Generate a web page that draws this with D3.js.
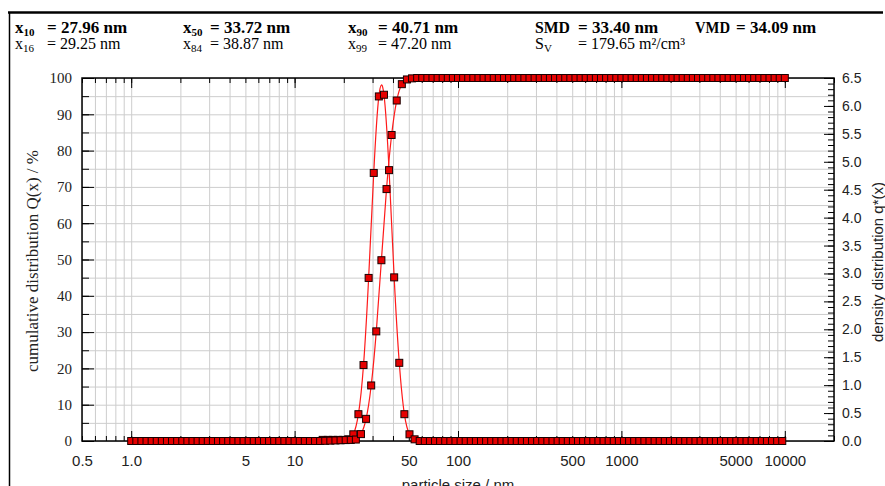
<!DOCTYPE html>
<html><head><meta charset="utf-8">
<script src="https://cdn.jsdelivr.net/npm/d3@7"></script>
<style>
html,body{margin:0;padding:0;background:#fff;}
svg{display:block;}
</style></head><body>
<svg id="chart" width="885" height="486"></svg>
<script>
// Upper class bounds of the size channels, nm (32 channels per decade)
const sizes = [
  1, 1.075, 1.155, 1.241, 1.334, 1.433, 1.540, 1.655, 1.778, 1.911, 2.054, 2.207, 2.371, 2.548, 2.738, 2.943,
  3.162, 3.398, 3.652, 3.924, 4.217, 4.532, 4.870, 5.233, 5.623, 6.043, 6.494, 6.978, 7.499, 8.058, 8.660, 9.306,
  10, 10.75, 11.55, 12.41, 13.34, 14.33, 15.40, 16.55, 17.78, 19.11, 20.54, 22.07, 23.71, 25.48, 27.38, 29.43,
  31.62, 33.98, 36.52, 39.24, 42.17, 45.32, 48.70, 52.33, 56.23, 60.43, 64.94, 69.78, 74.99, 80.58, 86.60, 93.06,
  100, 107.5, 115.5, 124.1, 133.4, 143.3, 154.0, 165.5, 177.8, 191.1, 205.4, 220.7, 237.1, 254.8, 273.8, 294.3,
  316.2, 339.8, 365.2, 392.4, 421.7, 453.2, 487.0, 523.3, 562.3, 604.3, 649.4, 697.8, 749.9, 805.8, 866.0, 930.6,
  1000, 1075, 1155, 1241, 1334, 1433, 1540, 1655, 1778, 1911, 2054, 2207, 2371, 2548, 2738, 2943,
  3162, 3398, 3652, 3924, 4217, 4532, 4870, 5233, 5623, 6043, 6494, 6978, 7499, 8058, 8660, 9306,
  10000
];

// Cumulative distribution Q(x) in %, one value per class bound
const cumulative = [
  0, 0, 0, 0, 0, 0, 0, 0, 0, 0, 0, 0, 0, 0, 0, 0,
  0, 0, 0, 0, 0, 0, 0, 0, 0, 0, 0, 0, 0, 0, 0, 0,
  0, 0, 0, 0, 0, 0, 0.05, 0.1, 0.15, 0.2, 0.25, 0.3, 0.4, 1.9, 6.1, 15.3,
  30.2, 49.8, 69.4, 84.3, 93.8, 98.3, 99.6, 99.9, 100, 100, 100, 100, 100, 100, 100, 100,
  100, 100, 100, 100, 100, 100, 100, 100, 100, 100, 100, 100, 100, 100, 100, 100,
  100, 100, 100, 100, 100, 100, 100, 100, 100, 100, 100, 100, 100, 100, 100, 100,
  100, 100, 100, 100, 100, 100, 100, 100, 100, 100, 100, 100, 100, 100, 100, 100,
  100, 100, 100, 100, 100, 100, 100, 100, 100, 100, 100, 100, 100, 100, 100, 100,
  100
];

// Density distribution q*(x), one value per class (between neighbouring bounds)
const density = [
  0, 0, 0, 0, 0, 0, 0, 0, 0, 0, 0, 0, 0, 0, 0, 0,
  0, 0, 0, 0, 0, 0, 0, 0, 0, 0, 0, 0, 0, 0, 0, 0,
  0, 0, 0, 0, 0, 0.02, 0.02, 0.02, 0.02, 0.02, 0.03, 0.12, 0.48, 1.36, 2.92, 4.80,
  6.17, 6.20, 4.85, 2.93, 1.40, 0.48, 0.12, 0.03, 0, 0, 0, 0, 0, 0, 0, 0,
  0, 0, 0, 0, 0, 0, 0, 0, 0, 0, 0, 0, 0, 0, 0, 0,
  0, 0, 0, 0, 0, 0, 0, 0, 0, 0, 0, 0, 0, 0, 0, 0,
  0, 0, 0, 0, 0, 0, 0, 0, 0, 0, 0, 0, 0, 0, 0, 0,
  0, 0, 0, 0, 0, 0, 0, 0, 0, 0, 0, 0, 0, 0, 0, 0
];

// Axis ticks and labels
const xLabelValues = [0.5, 1, 5, 10, 50, 100, 500, 1000, 5000, 10000];
const xLabelTexts = ["0.5", "1.0", "5", "10", "50", "100", "500", "1000", "5000", "10000"];
const xDecades = [1, 10, 100, 1000, 10000];
const leftTicks = [0, 10, 20, 30, 40, 50, 60, 70, 80, 90, 100];
const rightTicks = [0, 0.5, 1, 1.5, 2, 2.5, 3, 3.5, 4, 4.5, 5, 5.5, 6, 6.5];

// Characteristic values shown in the header
const statNames = ["x", "x", "x", "SMD", "VMD", "x", "x", "x", "S"];
const statSubs = ["10", "50", "90", "", "", "16", "84", "99", "V"];
const statValues = ["= 27.96 nm", "= 33.72 nm", "= 40.71 nm", "= 33.40 nm", "= 34.09 nm",
                    "= 29.25 nm", "= 38.87 nm", "= 47.20 nm", "= 179.65 m\u00B2/cm\u00B3"];
const statBold = [true, true, true, true, true, false, false, false, false];

const svg = d3.select("#chart");
const plot = {left: 82, right: 834, top: 78, bottom: 441};

const x = d3.scaleLog().domain([0.5, 20000]).range([plot.left, plot.right]);
const yQ = d3.scaleLinear().domain([0, 100]).range([plot.bottom, plot.top]);
const yq = d3.scaleLinear().domain([0, 6.5]).range([plot.bottom, plot.top]);

// all 1..9 x 10^n subdivisions inside the domain
const logSubdiv = x.ticks(40).filter(v => v >= 0.5 && v <= 20000);

// outer frame of the report
svg.append("line").attr("x1", 8).attr("x2", 883).attr("y1", 12.5).attr("y2", 12.5)
  .attr("stroke", "#000").attr("stroke-width", 2.5);
svg.append("line").attr("x1", 9.5).attr("x2", 9.5).attr("y1", 12).attr("y2", 486)
  .attr("stroke", "#000").attr("stroke-width", 1.5);

// header with characteristic values
const cols = [{n: 15, e: 47}, {n: 183, e: 210}, {n: 348, e: 378}, {n: 535, e: 578}, {n: 695, e: 736}];
const header = svg.append("g").attr("font-family", "'Liberation Serif', 'Times New Roman', serif").attr("fill", "#000");
statNames.forEach((name, i) => {
  const row = i < 5 ? 0 : 1;
  const col = row === 0 ? cols[i] : cols[i - 5];
  const yb = row === 0 ? 33 : 49;
  const fs = row === 0 ? 17 : 16;
  const w = statBold[i] ? "bold" : "normal";
  const t = header.append("text").attr("x", col.n).attr("y", yb).attr("font-size", fs).attr("font-weight", w);
  t.append("tspan").text(name);
  if (statSubs[i]) t.append("tspan").attr("font-size", 11).attr("dy", 3).text(statSubs[i]);
  if (name.length === 3) t.attr("textLength", 35).attr("lengthAdjust", "spacingAndGlyphs");
  header.append("text").attr("x", col.e).attr("y", yb).attr("font-size", fs).attr("font-weight", w)
    .text(statValues[i]);
});

// grid
const grid = svg.append("g");
grid.append("g").attr("transform", `translate(0,${plot.bottom})`)
  .call(d3.axisBottom(x).tickValues(logSubdiv).tickSize(-(plot.bottom - plot.top)).tickFormat("").tickSizeOuter(0))
  .call(g => g.select(".domain").remove())
  .call(g => g.selectAll("line").attr("stroke", "#cdcdcd").attr("stroke-width", 1));
grid.append("g").attr("transform", `translate(${plot.left},0)`)
  .call(d3.axisLeft(yQ).ticks(20).tickSize(-(plot.right - plot.left)).tickFormat("").tickSizeOuter(0))
  .call(g => g.select(".domain").remove())
  .call(g => g.selectAll("line").attr("stroke", "#cdcdcd").attr("stroke-width", 1));

// tick marks (pointing inward) on all four sides
function tickStyle(g) {
  g.select(".domain").remove();
  g.selectAll("line").attr("stroke", "#000").attr("stroke-width", 1);
}
svg.append("g").attr("transform", `translate(0,${plot.bottom})`)
  .call(d3.axisBottom(x).tickValues(logSubdiv).tickSize(-5).tickFormat("").tickSizeOuter(0)).call(tickStyle);
svg.append("g").attr("transform", `translate(0,${plot.bottom})`)
  .call(d3.axisBottom(x).tickValues(xDecades).tickSize(-10).tickFormat("").tickSizeOuter(0)).call(tickStyle);
svg.append("g").attr("transform", `translate(0,${plot.top})`)
  .call(d3.axisTop(x).tickValues(logSubdiv).tickSize(-5).tickFormat("").tickSizeOuter(0)).call(tickStyle);
svg.append("g").attr("transform", `translate(0,${plot.top})`)
  .call(d3.axisTop(x).tickValues(xDecades).tickSize(-10).tickFormat("").tickSizeOuter(0)).call(tickStyle);
svg.append("g").attr("transform", `translate(${plot.left},0)`)
  .call(d3.axisLeft(yQ).ticks(20).tickSize(-7).tickFormat("").tickSizeOuter(0)).call(tickStyle);
svg.append("g").attr("transform", `translate(${plot.left},0)`)
  .call(d3.axisLeft(yQ).tickValues(leftTicks).tickSize(-12).tickFormat("").tickSizeOuter(0)).call(tickStyle);
svg.append("g").attr("transform", `translate(${plot.right},0)`)
  .call(d3.axisRight(yq).ticks(65).tickSize(-6).tickFormat("").tickSizeOuter(0)).call(tickStyle);
svg.append("g").attr("transform", `translate(${plot.right},0)`)
  .call(d3.axisRight(yq).tickValues(rightTicks).tickSize(-10).tickFormat("").tickSizeOuter(0)).call(tickStyle);

// tick labels
svg.append("g").attr("transform", `translate(0,${plot.bottom})`)
  .call(d3.axisBottom(x).tickValues(xLabelValues).tickSize(0).tickPadding(14)
    .tickFormat((d, i) => xLabelTexts[i]))
  .call(g => g.select(".domain").remove())
  .call(g => g.selectAll("text").attr("font-family", "'Liberation Sans', Arial, sans-serif")
    .attr("font-size", 15).attr("fill", "#222"));
svg.append("g").attr("transform", `translate(${plot.left},0)`)
  .call(d3.axisLeft(yQ).tickValues(leftTicks).tickSize(0).tickPadding(10).tickFormat(d3.format("d")))
  .call(g => g.select(".domain").remove())
  .call(g => g.selectAll("text").attr("font-family", "'Liberation Serif', 'Times New Roman', serif")
    .attr("font-size", 15).attr("fill", "#222"));
svg.append("g").attr("transform", `translate(${plot.right},0)`)
  .call(d3.axisRight(yq).tickValues(rightTicks).tickSize(0).tickPadding(8).tickFormat(d3.format(".1f")))
  .call(g => g.select(".domain").remove())
  .call(g => g.selectAll("text").attr("font-family", "'Liberation Sans', Arial, sans-serif")
    .attr("font-size", 14).attr("fill", "#222"));

// axis titles
svg.append("text").attr("transform", `translate(38,261) rotate(-90)`).attr("text-anchor", "middle")
  .attr("font-family", "'Liberation Serif', 'Times New Roman', serif").attr("font-size", 17).attr("fill", "#222")
  .text("cumulative distribution Q(x) / %");
svg.append("text").attr("transform", `translate(883,262) rotate(-90)`).attr("text-anchor", "middle")
  .attr("font-family", "'Liberation Sans', Arial, sans-serif").attr("font-size", 15).attr("fill", "#222")
  .text("density distribution q*(x)");
svg.append("text").attr("x", 458).attr("y", 490).attr("text-anchor", "middle")
  .attr("font-family", "'Liberation Sans', Arial, sans-serif").attr("font-size", 15).attr("fill", "#222")
  .text("particle size / nm");

// plot frame
svg.append("rect").attr("x", plot.left).attr("y", plot.top)
  .attr("width", plot.right - plot.left).attr("height", plot.bottom - plot.top)
  .attr("fill", "none").attr("stroke", "#000").attr("stroke-width", 1.5);

// curves
svg.append("clipPath").attr("id", "plotClip").append("rect")
  .attr("x", plot.left).attr("y", plot.top).attr("width", plot.right - plot.left).attr("height", plot.bottom - plot.top);

const qPoints = sizes.map((s, i) => ({x: s, y: cumulative[i]}));
const dPoints = density.map((v, i) => ({x: Math.sqrt(sizes[i] * sizes[i + 1]), y: v}));

const lineQ = d3.line().x(d => x(d.x)).y(d => yQ(d.y)).curve(d3.curveNatural);
const lineD = d3.line().x(d => x(d.x)).y(d => yq(d.y)).curve(d3.curveNatural);

const curves = svg.append("g").attr("clip-path", "url(#plotClip)");
curves.append("path").datum(dPoints).attr("d", lineD).attr("fill", "none").attr("stroke", "#ff1a1a").attr("stroke-width", 1.2);
curves.append("path").datum(qPoints).attr("d", lineQ).attr("fill", "none").attr("stroke", "#ff1a1a").attr("stroke-width", 1.2);

const ms = 7;
svg.append("g").selectAll("rect").data(dPoints).join("rect")
  .attr("x", d => x(d.x) - ms / 2).attr("y", d => yq(d.y) - ms / 2)
  .attr("width", ms).attr("height", ms)
  .attr("fill", "#e60000").attr("stroke", "#1a0000").attr("stroke-width", 1);
svg.append("g").selectAll("rect").data(qPoints).join("rect")
  .attr("x", d => x(d.x) - ms / 2).attr("y", d => yQ(d.y) - ms / 2)
  .attr("width", ms).attr("height", ms)
  .attr("fill", "#e60000").attr("stroke", "#1a0000").attr("stroke-width", 1);
</script>
</body></html>
